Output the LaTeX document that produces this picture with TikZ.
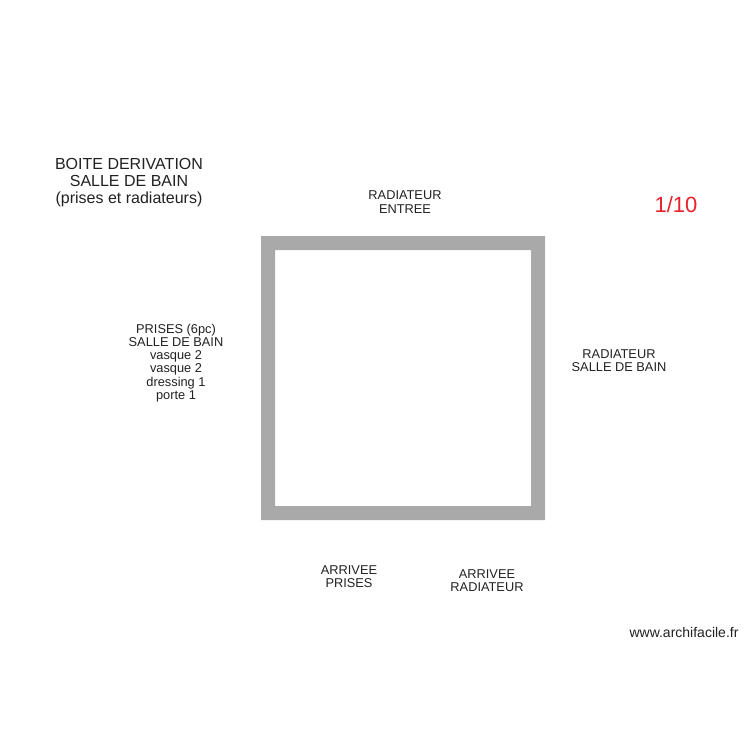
\documentclass[tikz,border=0pt]{standalone}
\usepackage{fontspec}
\setmainfont{Liberation Sans}
\definecolor{wallgray}{HTML}{A9A9A9}
\definecolor{txt}{HTML}{222222}
\definecolor{red1}{HTML}{E8222A}
\begin{document}
\begin{tikzpicture}[x=1pt,y=-1pt,
  lbl/.style={align=center,inner sep=0pt,text=txt,font=\fontsize{12.8}{13.2}\selectfont},
  ttl/.style={align=center,inner sep=0pt,text=txt,font=\fontsize{16}{17}\selectfont}]
\useasboundingbox (0,0) rectangle (750,750);
\fill[white] (0,0) rectangle (750,750);
\fill[wallgray,even odd rule] (261,236) rectangle (545,520) (275,250) rectangle (531,506);
\node[ttl] (title) at (129,183) {BOITE DERIVATION\\SALLE DE BAIN\\(prises et radiateurs)};
\node[lbl] (radentree) at (405,202) {RADIATEUR\\ENTREE};
\node[lbl] (prises) at (176,363) {PRISES (6pc)\\SALLE DE BAIN\\vasque 2\\vasque 2\\dressing 1\\porte 1};
\node[lbl] (radsdb) at (619,361) {RADIATEUR\\SALLE DE BAIN};
\node[lbl] (arrprises) at (349,577) {ARRIVEE\\PRISES};
\node[lbl] (arrrad) at (487,581) {ARRIVEE\\RADIATEUR};
\node[inner sep=0pt,text=red1,font=\fontsize{22}{24}\selectfont] (scale) at (676,205) {1/10};
\node[inner sep=0pt,text=txt,font=\fontsize{14}{16}\selectfont] (web) at (684,632) {www.archifacile.fr};
\end{tikzpicture}
\end{document}
